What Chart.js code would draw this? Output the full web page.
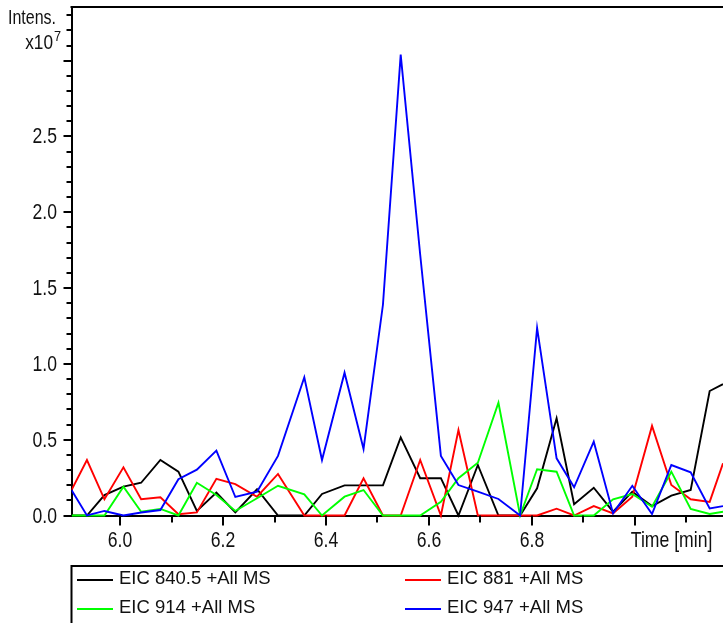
<!DOCTYPE html>
<html>
<head>
<meta charset="utf-8">
<script src="https://cdn.jsdelivr.net/npm/chart.js@4/dist/chart.umd.min.js"></script>
<style>
  html, body { margin: 0; padding: 0; background: #fff; overflow: hidden; }
  canvas { display: block; }
</style>
</head>
<body>
<canvas id="chart" width="723" height="623"></canvas>
<script>
// Retention times (min) of the MS scans
const times = [5.9055, 5.9355, 5.9695, 6.0064, 6.0408, 6.0782, 6.1132, 6.1491, 6.1870, 6.2238,
               6.2660, 6.3067, 6.3578, 6.3922, 6.4360, 6.4729, 6.5106, 6.5451, 6.5830, 6.6232,
               6.6573, 6.6950, 6.7350, 6.7771, 6.8101, 6.8480, 6.8820, 6.9202, 6.9577, 6.9951,
               7.0334, 7.0709, 7.1085, 7.1454, 7.1713];

// Extracted ion chromatograms, intensity in units of 1e7
const eic840 = [0, 0, 0.135, 0.19, 0.216, 0.366, 0.289, 0.03, 0.151, 0.02,
                0.173, 0, 0, 0.142, 0.199, 0.199, 0.199, 0.515, 0.246, 0.246,
                0, 0.333, 0, 0, 0.179, 0.641, 0.075, 0.183, 0.025, 0.157,
                0.062, 0.131, 0.168, 0.821, 0.866];
const eic881 = [0.168, 0.366, 0.107, 0.318, 0.107, 0.12, 0.008, 0.02, 0.242, 0.207,
                0.124, 0.274, 0, 0, 0, 0.246, 0, 0, 0.366, 0,
                0.564, 0, 0, 0, 0, 0.045, 0, 0.062, 0.014, 0.124,
                0.591, 0.201, 0.107, 0.09, 0.344];
const eic914 = [0, 0, 0, 0.19, 0.025, 0.043, 0, 0.216, 0.135, 0.03,
                0.114, 0.196, 0.14, 0, 0.124, 0.168, 0, 0, 0, 0.09,
                0.246, 0.348, 0.744, 0, 0.305, 0.289, 0, 0, 0.107, 0.142,
                0.058, 0.289, 0.043, 0.01, 0.025];
const eic947 = [0.168, 0, 0.03, 0, 0.02, 0.036, 0.239, 0.302, 0.428, 0.122,
                0.157, 0.393, 0.912, 0.366, 0.942, 0.439, 1.39, 3.04, 1.72, 0.393,
                0.201, 0.157, 0.109, 0, 1.237, 0.377, 0.186, 0.487, 0.014, 0.196,
                0.01, 0.333, 0.285, 0.047, 0.062];

const seriesLabels = ['EIC 840.5 +All MS', 'EIC 881 +All MS', 'EIC 914 +All MS', 'EIC 947 +All MS'];
const seriesColors = ['#000000', '#ff0000', '#00ff00', '#0000ff'];
const seriesValues = [eic840, eic881, eic914, eic947];

// Axis tick values
const xTicks = [6.0, 6.1, 6.2, 6.3, 6.4, 6.5, 6.6, 6.7, 6.8, 6.9, 7.0, 7.1];
const xLabelled = [6.0, 6.2, 6.4, 6.6, 6.8];
const yTicks = [0, 0.1, 0.2, 0.3, 0.4, 0.5, 0.6, 0.7, 0.8, 0.9, 1.0, 1.1, 1.2, 1.3, 1.4, 1.5, 1.6,
                1.7, 1.8, 1.9, 2.0, 2.1, 2.2, 2.3, 2.4, 2.5, 2.6, 2.7, 2.8, 2.9, 3.0, 3.1, 3.2, 3.3];
const yLabelled = [0, 0.5, 1.0, 1.5, 2.0, 2.5];

const SANS = "'Liberation Sans', Arial, sans-serif";

const near = (a, b) => Math.abs(a - b) < 1e-6;
const inList = (v, list) => list.some(w => near(v, w));
const isMultiple = (v, step) => near(v / step, Math.round(v / step));

// Condensed text: regular sans squeezed horizontally
function narrowText(ctx, text, x, y, size, align, baseline, squeeze) {
  ctx.save();
  ctx.translate(x, y);
  ctx.scale(squeeze || 0.8, 1);
  ctx.font = size + 'px ' + SANS;
  ctx.textAlign = align;
  ctx.textBaseline = baseline;
  ctx.fillText(text, 0, 0);
  ctx.restore();
}

// Frame, tick marks, tick labels, axis captions and the boxed legend
const decorations = {
  id: 'decorations',
  afterDraw(chart) {
    const ctx = chart.ctx;
    const area = chart.chartArea;
    const xs = chart.scales.x;
    const ys = chart.scales.y;
    ctx.save();
    ctx.strokeStyle = '#000';
    ctx.lineWidth = 2;

    // top frame line
    ctx.beginPath();
    ctx.moveTo(area.left - 1, area.top);
    ctx.lineTo(area.right + 2, area.top);
    ctx.stroke();

    // y tick marks (longer at every 0.5) and labels
    ctx.fillStyle = '#111';
    ys.ticks.forEach(t => {
      const py = Math.round(ys.getPixelForValue(t.value));
      const len = isMultiple(t.value, 0.5) ? 8 : 5;
      ctx.beginPath();
      ctx.moveTo(area.left - len, py);
      ctx.lineTo(area.left, py);
      ctx.stroke();
      if (inList(t.value, yLabelled)) {
        narrowText(ctx, t.value.toFixed(1), 57, py + 1, 22, 'right', 'middle');
      }
    });

    // x tick marks (longer at every 0.2) and labels
    xs.ticks.forEach(t => {
      const px = Math.round(xs.getPixelForValue(t.value));
      const len = isMultiple(t.value, 0.2) ? 10 : 7;
      ctx.beginPath();
      ctx.moveTo(px, area.bottom);
      ctx.lineTo(px, area.bottom + len);
      ctx.stroke();
      if (inList(t.value, xLabelled)) {
        narrowText(ctx, t.value.toFixed(1), px, area.bottom + 31, 22, 'center', 'alphabetic');
      }
    });
    narrowText(ctx, 'Time [min]', xs.getPixelForValue(7.0) - 4, area.bottom + 31, 22, 'left', 'alphabetic');

    // intensity caption
    narrowText(ctx, 'Intens.', 56, 18, 20, 'right', 'middle', 0.8);
    narrowText(ctx, 'x10', 53, 43, 21, 'right', 'middle', 0.82);
    narrowText(ctx, '7', 54, 37, 15, 'left', 'middle', 0.85);

    // legend box
    ctx.lineWidth = 2;
    ctx.strokeRect(area.left, 566, 760, 120);
    const cols = [77, 405];
    const rows = [580, 609];
    ctx.font = '18.5px ' + SANS;
    ctx.textBaseline = 'middle';
    ctx.textAlign = 'left';
    chart.data.datasets.forEach((ds, i) => {
      const cx = cols[i % 2];
      const cy = rows[Math.floor(i / 2)];
      ctx.strokeStyle = ds.borderColor;
      ctx.lineWidth = 2;
      ctx.beginPath();
      ctx.moveTo(cx, cy);
      ctx.lineTo(cx + 36, cy);
      ctx.stroke();
      ctx.fillStyle = '#111';
      ctx.fillText(ds.label, cx + 42, cy - 1);
    });
    ctx.restore();
  }
};

new Chart(document.getElementById('chart'), {
  type: 'line',
  data: {
    datasets: seriesValues.map((vals, i) => ({
      label: seriesLabels[i],
      data: times.map((t, k) => ({ x: t, y: vals[k] })),
      borderColor: seriesColors[i],
      backgroundColor: seriesColors[i],
      borderWidth: 1.9,
      pointRadius: 0,
      tension: 0,
      fill: false,
      order: 4 - i,
      clip: { left: 0, top: 0, right: 0, bottom: 4 }
    }))
  },
  options: {
    responsive: false,
    animation: false,
    devicePixelRatio: 1,
    layout: { padding: { top: 7, left: 0, right: 0, bottom: 0 } },
    plugins: { legend: { display: false }, tooltip: { enabled: false } },
    scales: {
      x: {
        type: 'linear',
        min: 5.9055,
        max: 7.1713,
        afterBuildTicks: s => { s.ticks = xTicks.map(v => ({ value: v })); },
        afterFit: s => { s.height = 107.5; s.paddingLeft = 0; s.paddingRight = 0; },
        grid: { display: false, drawTicks: false, tickLength: 0 },
        border: { display: true, color: '#000', width: 2 },
        ticks: { display: false, autoSkip: false }
      },
      y: {
        type: 'linear',
        min: 0,
        max: 3.354,
        afterBuildTicks: s => { s.ticks = yTicks.map(v => ({ value: v })); },
        afterFit: s => { s.width = 71.5; s.paddingTop = 0; s.paddingBottom = 0; },
        grid: { display: false, drawTicks: false, tickLength: 0 },
        border: { display: true, color: '#000', width: 2 },
        ticks: { display: false, autoSkip: false }
      }
    }
  },
  plugins: [decorations]
});
</script>
</body>
</html>
